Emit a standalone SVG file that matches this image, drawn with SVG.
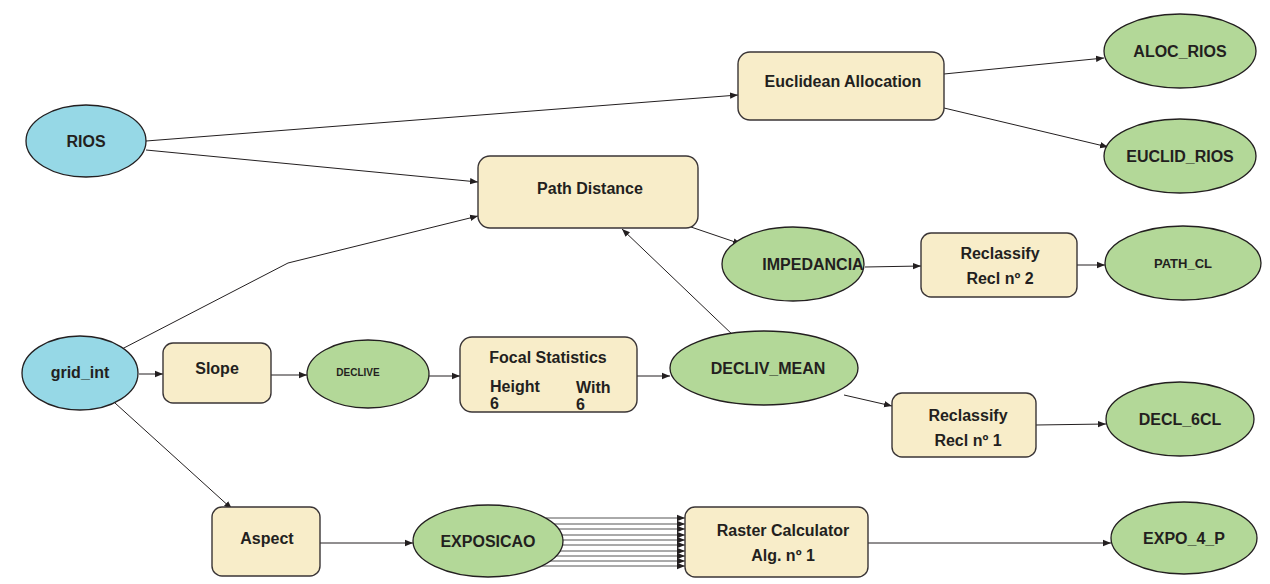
<svg xmlns="http://www.w3.org/2000/svg" width="1270" height="584" viewBox="0 0 1270 584">
<defs>
<marker id="arr" viewBox="0 0 10 10" refX="10" refY="5" markerWidth="8" markerHeight="8" markerUnits="userSpaceOnUse" orient="auto">
<path d="M0,1 L10,5 L0,9 z" fill="#231f20"/>
</marker>
</defs>
<style>
.box{fill:#f8edc9;stroke:#3a3536;stroke-width:1.4}
.in{fill:#96d8e6;stroke:#231f20;stroke-width:1.3}
.out{fill:#b3d898;stroke:#231f20;stroke-width:1.3}
text{font-family:"Liberation Sans",Arial,sans-serif;font-weight:bold;fill:#231f20;font-size:16px}
.c{text-anchor:middle}
.sm{font-size:10px}
.md{font-size:13px}
#edges line,#edges polyline{stroke:#231f20;stroke-width:1;fill:none;marker-end:url(#arr)}
#edges .par{stroke:#555;stroke-width:1}
</style>
<rect width="1270" height="584" fill="#ffffff"/>
<g id="edges">
<line x1="146" y1="141" x2="738" y2="95"/>
<line x1="146" y1="150" x2="478" y2="182"/>
<polyline points="120,350 288,263 478,216"/>
<line x1="944" y1="74" x2="1104" y2="58"/>
<line x1="944" y1="108" x2="1108" y2="147"/>
<line x1="688" y1="226" x2="741" y2="244"/>
<line x1="735" y1="337" x2="622" y2="229"/>
<line x1="865" y1="267" x2="921" y2="266"/>
<line x1="1077" y1="265" x2="1105" y2="265"/>
<line x1="139" y1="374" x2="163" y2="374"/>
<line x1="271" y1="375" x2="307" y2="375"/>
<line x1="429" y1="376" x2="460" y2="376"/>
<line x1="637" y1="376" x2="670" y2="376"/>
<line x1="844" y1="395" x2="892" y2="406"/>
<line x1="1036" y1="425" x2="1106" y2="424"/>
<line x1="115" y1="403" x2="232" y2="509"/>
<line x1="320" y1="543" x2="413" y2="543"/>
<line class="par" x1="546" y1="518" x2="685" y2="518"/>
<line class="par" x1="554" y1="524" x2="685" y2="524"/>
<line class="par" x1="559" y1="529" x2="685" y2="529"/>
<line class="par" x1="562" y1="535" x2="685" y2="535"/>
<line class="par" x1="563" y1="540" x2="685" y2="540"/>
<line class="par" x1="562" y1="545" x2="685" y2="545"/>
<line class="par" x1="560" y1="551" x2="685" y2="551"/>
<line class="par" x1="556" y1="556" x2="685" y2="556"/>
<line class="par" x1="550" y1="561" x2="685" y2="561"/>
<line class="par" x1="542" y1="566" x2="685" y2="566"/>
<line x1="868" y1="543" x2="1111" y2="543"/>
</g>
<g id="rios"><ellipse class="in" cx="86" cy="141" rx="60" ry="36"/><text class="c" x="86" y="147">RIOS</text></g>
<g id="grid_int"><ellipse class="in" cx="80" cy="373" rx="58" ry="37"/><text class="c" x="80" y="378">grid_int</text></g>
<g id="euclidean_allocation"><rect class="box" x="738" y="52" width="206" height="68" rx="12"/><text class="c" x="843" y="87">Euclidean Allocation</text></g>
<g id="path_distance"><rect class="box" x="478" y="156" width="220" height="72" rx="12"/><text class="c" x="590" y="194">Path Distance</text></g>
<g id="aloc_rios"><ellipse class="out" cx="1180" cy="51" rx="76" ry="37"/><text class="c" x="1180" y="57">ALOC_RIOS</text></g>
<g id="euclid_rios"><ellipse class="out" cx="1180" cy="156" rx="76" ry="37"/><text class="c" x="1180" y="162">EUCLID_RIOS</text></g>
<g id="impedancia"><ellipse class="out" cx="793" cy="264" rx="71" ry="37"/><text class="c" x="813" y="270">IMPEDANCIA</text></g>
<g id="reclassify2"><rect class="box" x="921" y="233" width="156" height="64" rx="10"/><text class="c" x="1000" y="259">Reclassify</text><text class="c" x="1000" y="284">Recl nº 2</text></g>
<g id="path_cl"><ellipse class="out" cx="1183" cy="263" rx="78" ry="37"/><text class="c md" x="1183" y="268">PATH_CL</text></g>
<g id="slope"><rect class="box" x="163" y="343" width="108" height="60" rx="10"/><text class="c" x="217" y="374">Slope</text></g>
<g id="declive"><ellipse class="out" cx="368" cy="374" rx="61" ry="34"/><text class="c sm" x="358" y="376">DECLIVE</text></g>
<g id="focal_statistics"><rect class="box" x="460" y="337" width="177" height="75" rx="12"/><text class="c" x="548" y="363">Focal Statistics</text><text x="490" y="392">Height</text><text x="490" y="409">6</text><text x="576" y="393">With</text><text x="576" y="410">6</text></g>
<g id="decliv_mean"><ellipse class="out" cx="764" cy="368" rx="94" ry="37"/><text class="c" x="768" y="374">DECLIV_MEAN</text></g>
<g id="reclassify1"><rect class="box" x="892" y="393" width="144" height="64" rx="10"/><text class="c" x="968" y="421">Reclassify</text><text class="c" x="968" y="446">Recl nº 1</text></g>
<g id="decl_6cl"><ellipse class="out" cx="1180" cy="419" rx="74" ry="37"/><text class="c" x="1180" y="425">DECL_6CL</text></g>
<g id="aspect"><rect class="box" x="212" y="507" width="108" height="69" rx="10"/><text class="c" x="267" y="544">Aspect</text></g>
<g id="exposicao"><ellipse class="out" cx="488" cy="541" rx="75" ry="36"/><text class="c" x="488" y="547">EXPOSICAO</text></g>
<g id="raster_calculator"><rect class="box" x="685" y="507" width="183" height="70" rx="10"/><text class="c" x="783" y="536">Raster Calculator</text><text class="c" x="783" y="561">Alg. nº 1</text></g>
<g id="expo_4_p"><ellipse class="out" cx="1184" cy="538" rx="73" ry="36"/><text class="c" x="1184" y="544">EXPO_4_P</text></g>
</svg>
